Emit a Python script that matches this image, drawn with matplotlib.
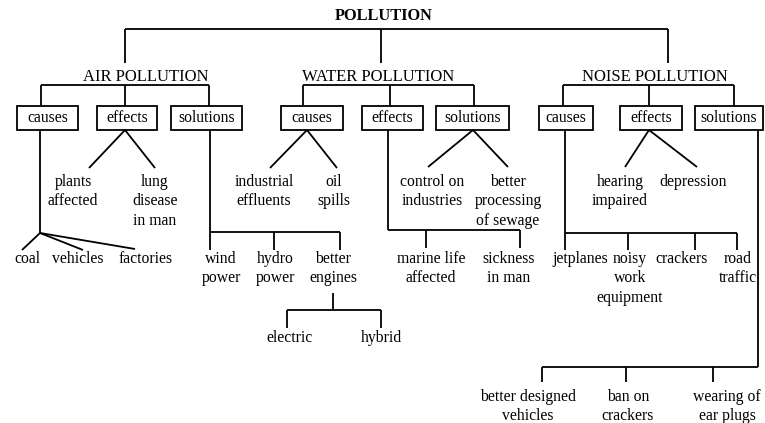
import matplotlib
matplotlib.use('Agg')
import matplotlib.pyplot as plt
from matplotlib.patches import Rectangle

plt.rcParams['font.family'] = ['Liberation Serif', 'DejaVu Serif']

# labels
root = "POLLUTION"
branches = ["AIR POLLUTION", "WATER POLLUTION", "NOISE POLLUTION"]
box_labels = ["causes", "effects", "solutions"]

air_causes = ["coal", "vehicles", "factories"]
air_effects = ["plants\naffected", "lung\ndisease\nin man"]
air_solutions = ["wind\npower", "hydro\npower", "better\nengines"]
engines = ["electric", "hybrid"]
water_causes = ["industrial\neffluents", "oil\nspills"]
water_effects = ["marine life\naffected", "sickness\nin man"]
water_solutions = ["control on\nindustries", "better\nprocessing\nof sewage"]
noise_causes = ["jetplanes", "noisy\nwork\nequipment", "crackers", "road\ntraffic"]
noise_effects = ["hearing\nimpaired", "depression"]
noise_solutions = ["better designed\nvehicles", "ban on\ncrackers", "wearing of\near plugs"]

# layout (pixel coords)
branch_x = [125, 381, 668]
branch_text_x = [146, 378, 655]
box_x = [[(17, 78), (97, 157), (171, 242)],
         [(281, 343), (362, 423), (436, 509)],
         [(539, 593), (620, 682), (695, 763)]]
box_conn = [[41, 125, 209], [303, 390, 474], [563, 649, 734]]
box_top, box_bot = 106, 130

fig = plt.figure(figsize=(7.65, 4.23), dpi=100)
ax = fig.add_axes([0, 0, 1, 1])
ax.set_xlim(0, 765)
ax.set_ylim(423, 0)
ax.axis('off')

LW = 1.3
FS = 11.3
LINE = 19.3


def line(xs, ys):
    ax.plot(xs, ys, color='black', lw=LW, solid_capstyle='butt')


def label(x, y, s, ha='center', **kw):
    for i, part in enumerate(s.split('\n')):
        ax.text(x, y + i * LINE, part, ha=ha, va='center', fontsize=FS, **kw)


# root
ax.text(384, 16, root, ha='center', va='center', fontsize=11.8, fontweight='bold')
line([branch_x[0], branch_x[2]], [29, 29])
for bx in branch_x:
    line([bx, bx], [29, 63])

# branches and boxes
for b in range(3):
    ax.text(branch_text_x[b], 77, branches[b], ha='center', va='center', fontsize=12)
    conn = box_conn[b]
    line([conn[0], conn[2]], [85, 85])
    for k in range(3):
        line([conn[k], conn[k]], [85, box_top])
        l, r = box_x[b][k]
        ax.add_patch(Rectangle((l, box_top), r - l, box_bot - box_top,
                               fill=False, ec='black', lw=LW))
        ax.text((l + r) / 2, 118, box_labels[k], ha='center', va='center', fontsize=FS)

# AIR causes: fan
line([40, 40], [box_bot, 233])
for lx, ly in zip([22, 83, 135], [250, 250, 249]):
    line([40, lx], [233, ly])
for s, tx in zip(air_causes, [27, 78, 146]):
    label(tx, 259, s)

# AIR effects
for s, tx, lx in zip(air_effects, [73, 155], [89, 155]):
    line([125, lx], [box_bot, 168])
    label(tx, 182, s)

# AIR solutions
line([210, 210], [box_bot, 250])
line([210, 340], [232, 232])
for lx in [274, 340]:
    line([lx, lx], [232, 250])
for s, tx in zip(air_solutions, [221, 275, 333]):
    label(tx, 259, s)
line([333, 333], [293, 310])
line([287, 381], [310, 310])
for lx in [287, 381]:
    line([lx, lx], [310, 328])
for s, tx in zip(engines, [290, 381]):
    label(tx, 338, s)

# WATER causes
for s, tx, lx in zip(water_causes, [264, 334], [270, 337]):
    line([307, lx], [box_bot, 168])
    label(tx, 182, s)

# WATER effects
line([388, 388], [box_bot, 230])
line([388, 520], [230, 230])
for lx in [426, 520]:
    line([lx, lx], [230, 248])
for s, tx in zip(water_effects, [431, 509]):
    label(tx, 259, s)

# WATER solutions
for s, tx, lx in zip(water_solutions, [432, 508], [428, 508]):
    line([473, lx], [box_bot, 167])
    label(tx, 182, s)

# NOISE causes
line([565, 565], [box_bot, 250])
line([565, 737], [233, 233])
for lx in [628, 695, 737]:
    line([lx, lx], [233, 250])
for s, tx in zip(noise_causes, [580, 630, 682, 738]):
    label(tx, 259, s)

# NOISE effects
for s, tx, lx in zip(noise_effects, [620, 693], [625, 697]):
    line([649, lx], [box_bot, 167])
    label(tx, 182, s)

# NOISE solutions
line([758, 758], [box_bot, 367])
line([542, 758], [367, 367])
for lx in [542, 626, 713]:
    line([lx, lx], [367, 382])
for s, tx in zip(noise_solutions, [528, 628, 727]):
    label(tx, 397, s)

fig.savefig('out.png', dpi=100, facecolor='white')
